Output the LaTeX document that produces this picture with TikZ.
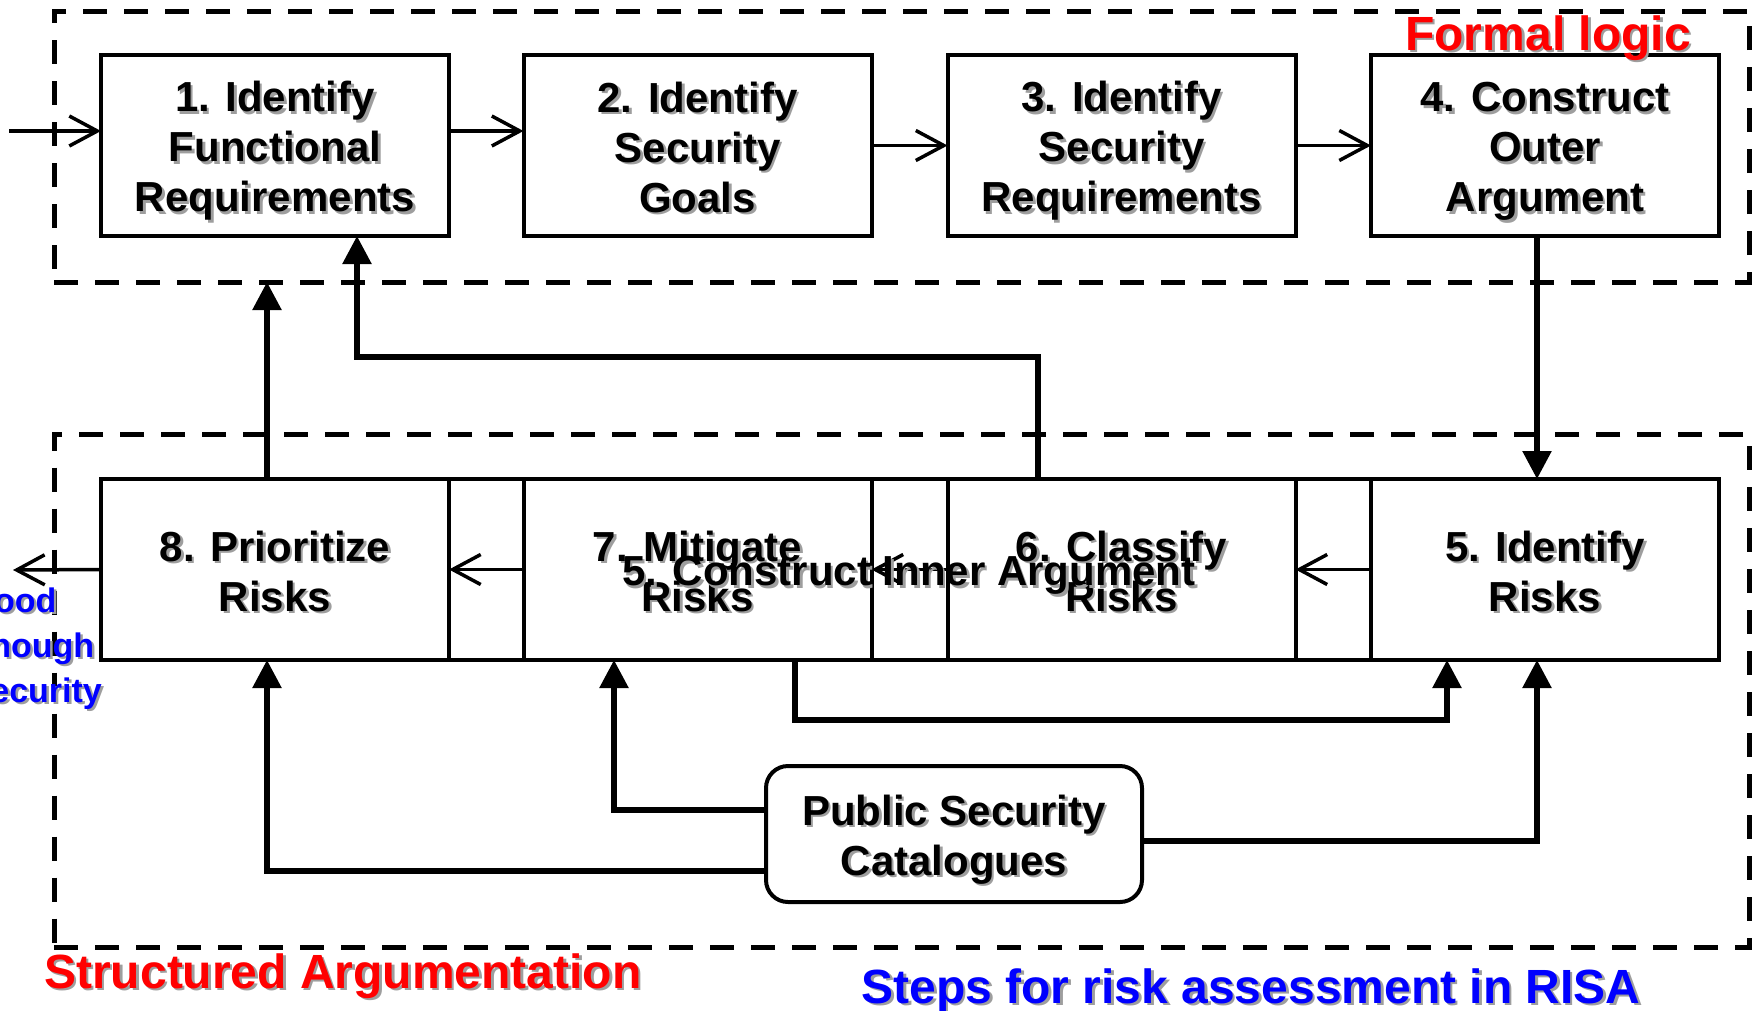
\documentclass[tikz,border=0pt]{standalone}
\usepackage{fontspec}
\setmainfont{Liberation Sans}
\usetikzlibrary{arrows.meta}
\definecolor{shade}{gray}{0.62}
\definecolor{lblred}{RGB}{255,0,0}
\definecolor{lblblue}{RGB}{0,0,255}
% text with a soft grey drop shadow
\newcommand\shtxt[1]{\leavevmode\rlap{\kern2.5pt\raisebox{-2.5pt}{\color{shade}#1}}#1}
% box lines with fixed height and depth, so every box centres its text alike
\newcommand\bline[1]{\rule[-11pt]{0pt}{55pt}\shtxt{#1}}
\newcommand\boxfont{\bfseries\fontsize{42}{50}\selectfont\lineskiplimit=-100pt\relax}
\newcommand\lblfont{\bfseries\fontsize{48}{54}\selectfont}
\tikzset{
  stepbox/.style={draw, line width=4pt, minimum width=348pt, minimum height=181pt,
                  inner sep=0pt, outer sep=0pt, align=center, font=\boxfont},
  catbox/.style={draw, line width=4pt, rounded corners=22pt, minimum width=376pt,
                 minimum height=136pt, inner sep=0pt, outer sep=0pt, align=center, font=\boxfont},
  frame/.style={draw, line width=5pt, dash pattern=on 24pt off 17pt, inner sep=0pt, outer sep=0pt},
  boxline/.style={line width=4pt},
  flow/.style={line width=3.5pt, -{Straight Barb[length=28pt,width=30pt,line width=3.5pt]}},
  link/.style={line width=5.5pt, -{Triangle[length=28pt,width=28pt]}},
  lbl/.style={inner sep=0pt, font=\lblfont},
}
\begin{document}
\begin{tikzpicture}[x=1pt, y=-1pt]
\clip (0,0) rectangle (1756,1010);

% dashed regions
\node[frame, minimum width=1695pt, minimum height=271pt] (formal) at (901.5,146.5) {};
\node[frame, minimum width=1695pt, minimum height=513pt] (structured) at (901.5,691) {};

% upper row of steps
\node[stepbox] (b1) at (275,145.5)    {\bline{1. Identify}\\\bline{Functional}\\\bline{Requirements}};
\node[stepbox] (b2) at (697.5,145.5)  {\bline{2. Identify}\\\bline{Security}\\\bline{Goals}};
\node[stepbox] (b3) at (1121.5,145.5) {\bline{3. Identify}\\\bline{Security}\\\bline{Requirements}};
\node[stepbox] (b4) at (1545,145.5)   {\bline{4. Construct}\\\bline{Outer}\\\bline{Argument}};

% lower row of steps
\node[stepbox] (b5) at (1545,569.5)   {\bline{5. Identify}\\\bline{Risks}};
\node[stepbox] (b6) at (1121.5,569.5) {\bline{6. Classify}\\\bline{Risks}};
\node[stepbox] (b7) at (697.5,569.5)  {\bline{7. Mitigate}\\\bline{Risks}};
\node[stepbox] (b8) at (275,569.5)    {\bline{8. Prioritize}\\\bline{Risks}};

% lower row drawn as one strip
\draw[boxline] (b8.north east) -- (b7.north west);
\draw[boxline] (b8.south east) -- (b7.south west);
\draw[boxline] (b7.north east) -- (b6.north west);
\draw[boxline] (b7.south east) -- (b6.south west);
\draw[boxline] (b6.north east) -- (b5.north west);
\draw[boxline] (b6.south east) -- (b5.south west);

\node[catbox] (cat) at (954,834) {\bline{Public Security}\\\bline{Catalogues}};

% step order
\coordinate (start) at (9,131);
\coordinate (finish) at (13,570);
\draw[flow] (start) -- (start -| b1.west);
\draw[flow] (b1.east |- start) -- (b2.west |- start);
\draw[flow] (b2.east) -- (b3.west);
\draw[flow] (b3.east) -- (b4.west);
\draw[flow] (b5.west) -- (b6.east);
\draw[flow] (b6.west) -- (b7.east);
\draw[flow] (b7.west) -- (b8.east);
\draw[flow] (b8.west) -- (finish);

% links between the regions
\draw[link] ([xshift=-8pt]b4.south) -- ([xshift=-8pt]b5.north);
\draw[link] ([xshift=-8pt]b8.north) -- ([xshift=-8pt]b8.north |- formal.south);
\draw[link] ([xshift=-83.5pt]b6.north) -- ++(0,-122) -| ([xshift=82pt]b1.south);
\draw[link] ([xshift=97.5pt]b7.south) -- ++(0,60) -| ([xshift=-98pt]b5.south);

% catalogue inputs
\draw[link] ([yshift=24pt]cat.west) -| ([xshift=-83.5pt]b7.south);
\draw[link] ([yshift=-37pt]cat.west) -| ([xshift=-8pt]b8.south);
\draw[link] ([yshift=-7pt]cat.east) -| ([xshift=-8pt]b5.south);

% captions
\node[lbl, text=lblred, anchor=base] (flabel) at (1548,50) {\shtxt{Formal logic}};
\node[lbl, text=lblred, anchor=base] (slabel) at (343,988) {\shtxt{Structured Argumentation}};
\node[lbl, text=lblblue, anchor=base] (rlabel) at (1251,1003) {\shtxt{Steps for risk assessment in RISA}};
\node[inner sep=0pt, font=\boxfont] (inner) at (909,577) {\shtxt{5. Construct Inner Argument}};
\node[inner sep=0pt, text=lblblue, align=left, anchor=base west,
      font=\bfseries\fontsize{34}{45}\selectfont] (good) at (-32.5,702)
      {\shtxt{Good}\\\shtxt{Enough}\\\shtxt{Security}};
\end{tikzpicture}
\end{document}
